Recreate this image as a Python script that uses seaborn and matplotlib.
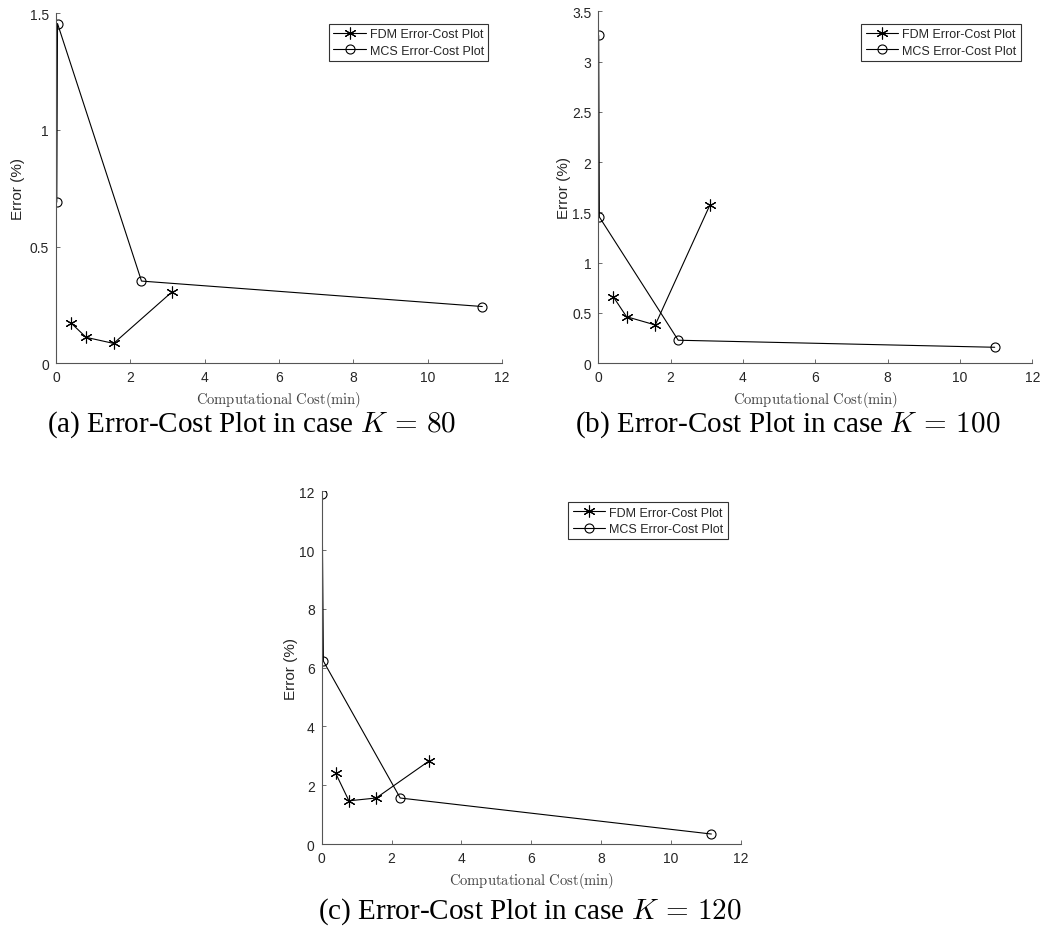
import numpy as np
import pandas as pd
import matplotlib
matplotlib.use("Agg")
import matplotlib.pyplot as plt
import seaborn as sns
from matplotlib.ticker import FuncFormatter

# ---- data ----
k_cases = [80, 100, 120]
panel_tags = ["(a)", "(b)", "(c)"]

mcs_cost_80 = [0.02, 0.04, 2.30, 11.47]
mcs_err_80 = [0.69, 1.455, 0.352, 0.243]
fdm_cost_80 = [0.40, 0.81, 1.55, 3.13]
fdm_err_80 = [0.173, 0.111, 0.085, 0.307]

mcs_cost_100 = [0.01, 0.03, 2.21, 10.96]
mcs_err_100 = [3.26, 1.454, 0.229, 0.159]
fdm_cost_100 = [0.414, 0.78, 1.575, 3.09]
fdm_err_100 = [0.662, 0.463, 0.381, 1.577]

mcs_cost_120 = [0.01, 0.05, 2.25, 11.16]
mcs_err_120 = [11.92, 6.22, 1.565, 0.34]
fdm_cost_120 = [0.40, 0.78, 1.56, 3.08]
fdm_err_120 = [2.41, 1.47, 1.565, 2.83]

x_ticks = [0, 2, 4, 6, 8, 10, 12]
y_ticks_80 = [0, 0.5, 1, 1.5]
y_ticks_100 = [0, 0.5, 1, 1.5, 2, 2.5, 3, 3.5]
y_ticks_120 = [0, 2, 4, 6, 8, 10, 12]

panels = [
    (fdm_cost_80, fdm_err_80, mcs_cost_80, mcs_err_80, y_ticks_80),
    (fdm_cost_100, fdm_err_100, mcs_cost_100, mcs_err_100, y_ticks_100),
    (fdm_cost_120, fdm_err_120, mcs_cost_120, mcs_err_120, y_ticks_120),
]

# ---- style (MATLAB-ish) ----
sns.set_theme(style="white")
plt.rcParams.update({
    "font.family": ["Liberation Sans", "DejaVu Sans"],
    "mathtext.fontset": "cm",
    "xtick.direction": "in",
    "ytick.direction": "in",
    "xtick.major.size": 3,
    "ytick.major.size": 3,
    "xtick.major.width": 0.6,
    "ytick.major.width": 0.6,
    "xtick.color": "#555555",
    "ytick.color": "#555555",
    "xtick.labelcolor": "#262626",
    "ytick.labelcolor": "#262626",
    "xtick.bottom": True,
    "ytick.left": True,
})

fig = plt.figure(figsize=(10.55, 9.29), dpi=100)
axes_rects = [
    [0.0531, 0.6079, 0.4227, 0.3770],
    [0.5671, 0.6079, 0.4114, 0.3789],
    [0.3049, 0.0904, 0.3972, 0.3797],
]
legend_anchor = [(0.969, 0.969), (0.973, 0.964), (0.969, 0.969)]
ylabel_x = [-0.069, -0.063, -0.057]
caption_pos = [(252, 425), (788, 425), (530, 912)]

fmt = FuncFormatter(lambda v, p: f"{v:g}")

for i, (fc, fe, mc, me, yt) in enumerate(panels):
    ax = fig.add_axes(axes_rects[i])
    sns.lineplot(x=fc, y=fe, ax=ax, sort=False, estimator=None, color="black",
                 linewidth=0.8, marker=(6, 2, 0), markersize=8.5, markeredgewidth=0.8,
                 markeredgecolor="black", label="FDM Error-Cost Plot")
    sns.lineplot(x=mc, y=me, ax=ax, sort=False, estimator=None, color="black",
                 linewidth=0.8, marker="o", markersize=6.5, markerfacecolor="none",
                 markeredgewidth=0.8, markeredgecolor="black", label="MCS Error-Cost Plot")

    ax.set_xlim(0, 12)
    ax.set_ylim(yt[0], yt[-1])
    ax.set_xticks(x_ticks)
    ax.set_yticks(yt)
    ax.xaxis.set_major_formatter(fmt)
    ax.yaxis.set_major_formatter(fmt)
    ax.tick_params(labelsize=10, pad=5)

    sns.despine(ax=ax)
    for side in ["left", "bottom"]:
        ax.spines[side].set_color("#555555")
        ax.spines[side].set_linewidth(0.8)

    ax.set_ylabel("Error (%)", fontsize=11, color="#262626")
    ax.yaxis.set_label_coords(ylabel_x[i], 0.5)
    ax.set_xlabel(r"$\mathrm{Computational\ Cost(min)}$", fontsize=10.5, color="#404040")
    ax.xaxis.set_label_coords(0.5, -0.073)

    leg = ax.legend(loc="upper right", bbox_to_anchor=legend_anchor[i], borderaxespad=0,
                    fontsize=9, fancybox=False, framealpha=1, edgecolor="#333333",
                    handlelength=2.6, handletextpad=0.3, borderpad=0.35, labelspacing=0.35)
    leg.get_frame().set_linewidth(0.8)

    cx, cy = caption_pos[i]
    fig.text(cx / 1055, 1 - cy / 929,
             f"{panel_tags[i]} Error-Cost Plot in case $K\\,=\\,{k_cases[i]}$",
             ha="center", va="center", fontsize=21, color="black",
             family=["Liberation Serif", "DejaVu Serif"])

fig.savefig("out.png", dpi=100)
